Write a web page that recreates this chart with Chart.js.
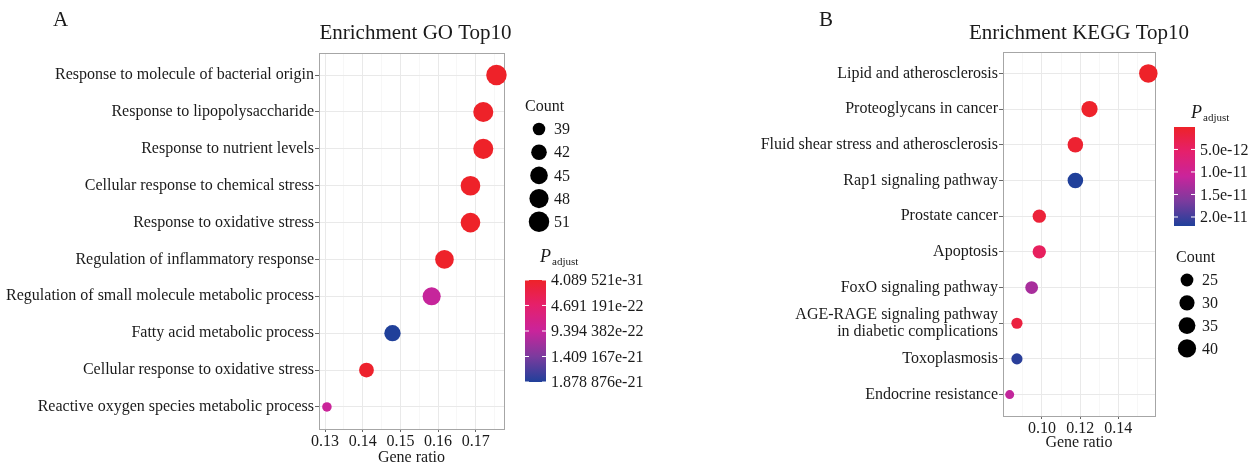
<!DOCTYPE html>
<html>
<head>
<meta charset="utf-8">
<script src="https://cdn.jsdelivr.net/npm/chart.js@4"></script>
<style>
  body { margin: 0; background: #fff; }
  #wrap { position: relative; width: 1260px; height: 464px; }
  canvas { position: absolute; top: 0; }
</style>
</head>
<body>
<div id="wrap">
  <canvas id="goChart" width="680" height="464" style="left:0"></canvas>
  <canvas id="keggChart" width="580" height="464" style="left:680px"></canvas>
</div>
<script>
// ---- GO panel data ----
const goTerms = [
    "Response to molecule of bacterial origin",
    "Response to lipopolysaccharide",
    "Response to nutrient levels",
    "Cellular response to chemical stress",
    "Response to oxidative stress",
    "Regulation of inflammatory response",
    "Regulation of small molecule metabolic process",
    "Fatty acid metabolic process",
    "Cellular response to oxidative stress",
    "Reactive oxygen species metabolic process"
];
const goRatio = [0.1755, 0.1720, 0.1720, 0.1686, 0.1686, 0.1617, 0.1583, 0.1479, 0.1410, 0.1305];
const goCount = [51, 50, 50, 49, 49, 47, 46, 43, 41, 38];
const goPadj = [4.089521e-31, 3.2e-27, 5.6e-26, 1.3e-25, 2.7e-24, 8.4e-24, 9.6e-22, 1.878876e-21, 2.9e-23, 9.2e-22];
const goXTicks = [0.13, 0.14, 0.15, 0.16, 0.17];
const goCountLegend = [39, 42, 45, 48, 51];
const goPTicks = [4.089521e-31, 4.691191e-22, 9.394382e-22, 1.409167e-21, 1.878876e-21];
const goPTickLabels = ["4.089 521e-31", "4.691 191e-22", "9.394 382e-22", "1.409 167e-21", "1.878 876e-21"];

// ---- KEGG panel data ----
const keggTerms = [
    "Lipid and atherosclerosis",
    "Proteoglycans in cancer",
    "Fluid shear stress and atherosclerosis",
    "Rap1 signaling pathway",
    "Prostate cancer",
    "Apoptosis",
    "FoxO signaling pathway",
    ["AGE-RAGE signaling pathway", "in diabetic complications"],
    "Toxoplasmosis",
    "Endocrine resistance"
];
const keggRatio = [0.1557, 0.1249, 0.1175, 0.1175, 0.0986, 0.0986, 0.0946, 0.0869, 0.0869, 0.0831];
const keggCount = [41, 33, 31, 31, 26, 26, 25, 23, 23, 22];
const keggPadj = [1.5e-14, 2.0e-13, 6.5e-13, 2.2e-11, 1.3e-12, 4.4e-12, 1.33e-11, 1.9e-12, 2.14e-11, 1.15e-11];
const keggXTicks = [0.10, 0.12, 0.14];
const keggCountLegend = [25, 30, 35, 40];
const keggPTicks = [5e-12, 1e-11, 1.5e-11, 2e-11];
const keggPTickLabels = ["5.0e-12", "1.0e-11", "1.5e-11", "2.0e-11"];

const FONT = "'Liberation Serif', 'Times New Roman', serif";
const TEXT = "#1a1a1a";

// red -> magenta -> blue ramp (low p.adjust is red)
const ramp = [
    [0, [238, 34, 41]],
    [0.25, [229, 32, 108]],
    [0.5, [201, 36, 155]],
    [0.75, [123, 59, 158]],
    [1, [32, 64, 154]]
];
function rampColor(t) {
    t = Math.max(0, Math.min(1, t));
    for (let i = 1; i < ramp.length; i++) {
        if (t <= ramp[i][0]) {
            const a = ramp[i - 1], b = ramp[i];
            const f = (t - a[0]) / (b[0] - a[0]);
            const c = a[1].map((v, k) => Math.round(v + (b[1][k] - v) * f));
            return "rgb(" + c.join(",") + ")";
        }
    }
    return "rgb(" + ramp[ramp.length - 1][1].join(",") + ")";
}

function makePanel(cfg) {
    const pMin = Math.min(...cfg.padj), pMax = Math.max(...cfg.padj);
    const cMin = Math.min(...cfg.count), cMax = Math.max(...cfg.count);
    const tOf = p => (p - pMin) / (pMax - pMin);
    const radius = c => (cfg.dMin + (cfg.dMax - cfg.dMin) * Math.sqrt((c - cMin) / (cMax - cMin))) / 2;

    // major + minor x ticks
    const step = cfg.xTicks[1] - cfg.xTicks[0];
    const allTicks = [];
    for (let v = cfg.xTicks[0] - step; v <= cfg.xMax + 1e-9; v += step / 2) {
        if (v >= cfg.xMin - 1e-9) allTicks.push(+v.toFixed(4));
    }
    const isMajor = v => cfg.xTicks.some(m => Math.abs(m - v) < 1e-6);

    const points = cfg.terms.map((t, i) => ({ x: cfg.ratio[i], y: i + 1, count: cfg.count[i], p: cfg.padj[i] }));

    const panelPlugin = {
        id: "panelDecor",
        beforeDatasetsDraw(chart) {
            const { ctx, chartArea: a } = chart;
            ctx.save();
            ctx.strokeStyle = "#a6a6a6";
            ctx.lineWidth = 1;
            ctx.strokeRect(Math.round(a.left) + 0.5, Math.round(a.top) + 0.5,
                Math.round(a.right - a.left), Math.round(a.bottom - a.top));
            ctx.restore();
        },
        afterDraw(chart) {
            const { ctx, chartArea: a } = chart;
            ctx.save();
            ctx.fillStyle = TEXT;
            ctx.textBaseline = "middle";
            // panel letter
            ctx.font = "21px " + FONT;
            ctx.textAlign = "left";
            ctx.fillText(cfg.letter, cfg.letterX, 20);
            // title
            ctx.font = "21px " + FONT;
            ctx.textAlign = "center";
            ctx.fillText(cfg.title, (a.left + a.right) / 2 + cfg.titleDx, 33);

            // colour bar legend
            const cb = cfg.colorbar;
            ctx.textAlign = "left";
            ctx.font = "italic 18px " + FONT;
            ctx.fillText("P", cb.titleX, cb.titleY);
            const pw = ctx.measureText("P").width;
            ctx.font = "11px " + FONT;
            ctx.fillText("adjust", cb.titleX + pw + 1, cb.titleY + 5);
            const grad = ctx.createLinearGradient(0, cb.top, 0, cb.bottom);
            for (let i = 0; i <= 20; i++) grad.addColorStop(i / 20, rampColor(i / 20));
            ctx.fillStyle = grad;
            ctx.fillRect(cb.x, cb.top, cb.w, cb.bottom - cb.top);
            ctx.font = "16px " + FONT;
            cfg.pTicks.forEach((v, i) => {
                const y = cb.top + tOf(v) * (cb.bottom - cb.top);
                ctx.strokeStyle = "#fff";
                ctx.lineWidth = 1;
                ctx.beginPath();
                ctx.moveTo(cb.x, y); ctx.lineTo(cb.x + 4, y);
                ctx.moveTo(cb.x + cb.w - 4, y); ctx.lineTo(cb.x + cb.w, y);
                ctx.stroke();
                ctx.fillStyle = TEXT;
                ctx.fillText(cfg.pTickLabels[i], cb.x + cb.w + 5, y + 1);
            });

            // size legend
            const sl = cfg.sizeLegend;
            ctx.font = "16px " + FONT;
            ctx.fillStyle = TEXT;
            ctx.fillText("Count", sl.titleX, sl.titleY);
            cfg.countLegend.forEach((c, i) => {
                const y = sl.top + i * sl.gap;
                ctx.fillStyle = "#000";
                ctx.beginPath();
                ctx.arc(sl.cx, y, radius(c), 0, Math.PI * 2);
                ctx.fill();
                ctx.fillStyle = TEXT;
                ctx.fillText(String(c), sl.labelX, y + 1);
            });
            ctx.restore();
        }
    };

    return new Chart(document.getElementById(cfg.canvas), {
        type: "scatter",
        data: {
            datasets: [{
                data: points,
                clip: false,
                pointRadius: ctx => radius(ctx.raw.count),
                pointHoverRadius: ctx => radius(ctx.raw.count),
                pointBackgroundColor: ctx => rampColor(tOf(ctx.raw.p)),
                pointBorderWidth: 0,
                pointBorderColor: "rgba(0,0,0,0)"
            }]
        },
        options: {
            responsive: false,
            animation: false,
            devicePixelRatio: 1,
            events: [],
            layout: { padding: { left: 0, top: cfg.top, right: cfg.padRight, bottom: 0 } },
            plugins: { legend: { display: false }, tooltip: { enabled: false } },
            scales: {
                x: {
                    type: "linear",
                    min: cfg.xMin,
                    max: cfg.xMax,
                    afterBuildTicks: s => { s.ticks = allTicks.map(v => ({ value: v })); },
                    afterFit: s => { s.height = cfg.xHeight; },
                    border: { display: false },
                    grid: {
                        color: c => isMajor(c.tick.value) ? "#e9e9e9" : "#f3f3f3",
                        lineWidth: c => isMajor(c.tick.value) ? 1 : 0.7,
                        tickColor: c => isMajor(c.tick.value) ? "#666" : "rgba(0,0,0,0)",
                        tickLength: 3,
                        drawTicks: true
                    },
                    ticks: {
                        autoSkip: false,
                        maxRotation: 0,
                        padding: 0,
                        color: TEXT,
                        font: { family: FONT, size: 16 },
                        callback: v => isMajor(v) ? v.toFixed(2) : ""
                    },
                    title: {
                        display: true,
                        text: "Gene ratio",
                        color: TEXT,
                        font: { family: FONT, size: 16, lineHeight: 1.2 },
                        padding: { top: 0, bottom: cfg.xTitlePad }
                    }
                },
                y: {
                    type: "linear",
                    reverse: true,
                    min: 0.4,
                    max: 10.6,
                    afterBuildTicks: s => { s.ticks = cfg.terms.map((_, i) => ({ value: i + 1 })); },
                    afterFit: s => { s.width = cfg.yWidth; },
                    border: { display: false },
                    grid: { color: "#e9e9e9", lineWidth: 1, tickColor: "#666", tickLength: 4 },
                    ticks: {
                        autoSkip: false,
                        padding: 1,
                        color: TEXT,
                        font: { family: FONT, size: 16, lineHeight: 1.08 },
                        callback: v => cfg.terms[Math.round(v) - 1]
                    }
                }
            }
        },
        plugins: [panelPlugin]
    });
}

makePanel({
    canvas: "goChart",
    letter: "A", letterX: 53,
    title: "Enrichment GO Top10", titleDx: 4,
    terms: goTerms, ratio: goRatio, count: goCount, padj: goPadj,
    xTicks: goXTicks, xMin: 0.1284, xMax: 0.1775,
    pTicks: goPTicks, pTickLabels: goPTickLabels, countLegend: goCountLegend,
    dMin: 9.5, dMax: 20.5,
    top: 53, padRight: 176, yWidth: 319, xHeight: 35, xTitlePad: -3.5,
    colorbar: { x: 525, w: 21, top: 280, bottom: 382, titleX: 540, titleY: 257 },
    sizeLegend: { titleX: 525, titleY: 107, cx: 539, top: 129, gap: 23.2, labelX: 554 }
});

// KEGG canvas starts at x = 680 on the page
makePanel({
    canvas: "keggChart",
    letter: "B", letterX: 139,
    title: "Enrichment KEGG Top10", titleDx: 0,
    terms: keggTerms, ratio: keggRatio, count: keggCount, padj: keggPadj,
    xTicks: keggXTicks, xMin: 0.0796, xMax: 0.1592,
    pTicks: keggPTicks, pTickLabels: keggPTickLabels, countLegend: keggCountLegend,
    dMin: 9, dMax: 18.5,
    top: 52, padRight: 105, yWidth: 323, xHeight: 48, xTitlePad: 12,
    colorbar: { x: 494, w: 21, top: 127, bottom: 226, titleX: 511, titleY: 113 },
    sizeLegend: { titleX: 496, titleY: 258, cx: 507, top: 280, gap: 22.8, labelX: 522 }
});
</script>
</body>
</html>
